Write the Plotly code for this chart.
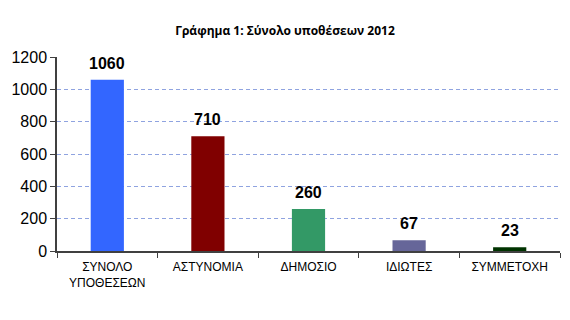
import plotly.graph_objects as go

categories = ["ΣΥΝΟΛΟ<br>ΥΠΟΘΕΣΕΩΝ", "ΑΣΤΥΝΟΜΙΑ", "ΔΗΜΟΣΙΟ", "ΙΔΙΩΤΕΣ", "ΣΥΜΜΕΤΟΧΗ"]
values = [1060, 710, 260, 67, 23]
colors = ["#3366FF", "#800000", "#339966", "#666699", "#003300"]
y_ticks = [0, 200, 400, 600, 800, 1000, 1200]

fig = go.Figure(go.Bar(
    x=categories, y=values,
    marker=dict(color=colors, line=dict(width=0)),
    width=0.33,
    cliponaxis=False,
))

for c, v in zip(categories, values):
    fig.add_annotation(
        x=c, y=v, text=f"<b>{v}</b>", showarrow=False,
        yanchor="bottom", yshift=6,
        font=dict(family="Arial, Liberation Sans", size=16, color="#000000"),
    )

fig.update_layout(
    width=570, height=320,
    margin=dict(l=57, r=10, t=57, b=69),
    paper_bgcolor="white", plot_bgcolor="white",
    showlegend=False,
    title=dict(text="<b>Γράφημα 1: Σύνολο υποθέσεων 2012</b>",
               x=0.5, xanchor="center", y=0.903, yanchor="middle",
               font=dict(family="Open Sans, Liberation Sans", size=12, color="#000000")),
)
fig.update_xaxes(
    showline=True, linecolor="#404040", linewidth=1.5,
    ticks="outside", tickson="boundaries", ticklen=5, tickcolor="#404040",
    tickfont=dict(family="Arial, Liberation Sans", size=12, color="#000000"),
    ticklabelstandoff=4,
    showgrid=False,
)
fig.update_yaxes(
    range=[0, 1200], tickvals=y_ticks,
    showline=True, linecolor="#404040", linewidth=1.5,
    ticks="outside", ticklen=5, tickcolor="#404040",
    tickfont=dict(family="Arial, Liberation Sans", size=16, color="#000000"),
    showgrid=True, gridcolor="#8FA3E0", griddash="4px,3px", gridwidth=1,
    zeroline=False,
)

fig.write_html("out.html")
